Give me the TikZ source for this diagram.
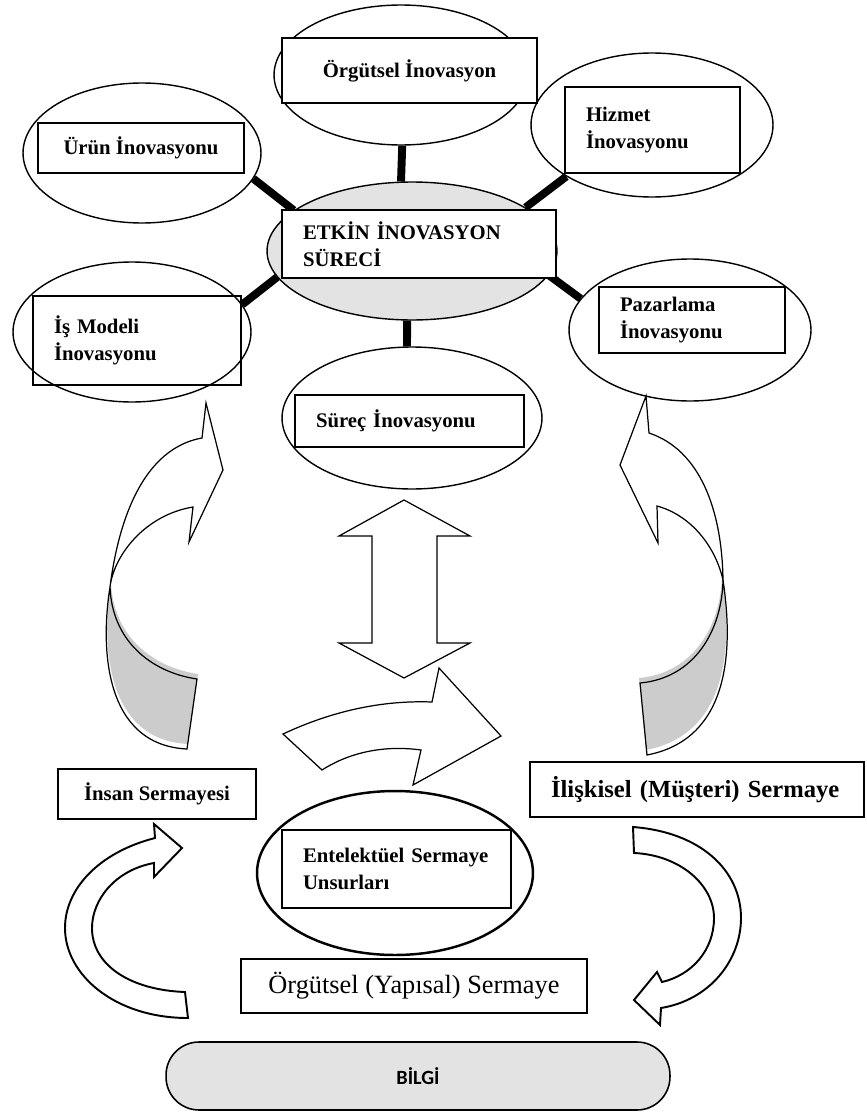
\documentclass[tikz,border=0pt]{standalone}
\usepackage{fontspec}
\setmainfont{Liberation Serif}
\newfontfamily\bilgifont{Carlito}
\usetikzlibrary{shapes.geometric}

\begin{document}
\begin{tikzpicture}[x=0.02cm,y=-0.02cm,
  oval/.style={draw,ellipse,line width=0.8pt,inner sep=0pt},
  kutu/.style={draw,rectangle,fill=white,line width=0.9pt,inner sep=0pt,
    font=\fontsize{11.8}{15.5}\selectfont\bfseries},
  solkutu/.style={kutu,align=left,inner xsep=0.42cm},
  spoke/.style={line width=4.5pt},
  blok/.style={draw,fill=white,line width=0.7pt,line join=miter},
  blokalt/.style={draw,fill=white,line width=1.1pt,line join=miter}]
\useasboundingbox (0,0) rectangle (866,1115);

% ellipses around the boxes
\node[oval,minimum width=5.08cm,minimum height=2.8cm] (orgE) at (401,75) {};
\node[oval,minimum width=4.76cm,minimum height=2.8cm] (urunE) at (142,153) {};
\node[oval,minimum width=4.84cm,minimum height=2.88cm] (hizE) at (652,125) {};
\node[oval,fill=gray!22,minimum width=5.8cm,minimum height=2.76cm] (etkinE) at (412,251) {};
\node[oval,minimum width=4.76cm,minimum height=2.8cm] (isE) at (132,332) {};
\node[oval,minimum width=4.84cm,minimum height=2.84cm] (pazE) at (690,330) {};
\node[oval,minimum width=5.2cm,minimum height=2.84cm] (surE) at (412,418) {};
\node[oval,line width=1.4pt,minimum width=5.52cm,minimum height=3.28cm] (entE) at (395,873) {};

% thick spokes
\draw[spoke] (orgE.-89) -- (etkinE.99);
\draw[spoke] (urunE.-13) -- (etkinE.161);
\draw[spoke] (hizE.-149) -- (etkinE.21);
\draw[spoke] (isE.14) -- (etkinE.191);
\draw[spoke] (etkinE.-10) -- (pazE.164);
\draw[spoke] (etkinE.-94) -- (surE.94);

% boxes
\node[kutu,minimum width=5.1cm,minimum height=1.3cm] (orgB) at (409.5,70.5) {Örgütsel İnovasyon};
\node[kutu,minimum width=4.12cm,minimum height=1cm] (urunB) at (141,148) {Ürün İnovasyonu};
\node[solkutu,text width=2.66cm,minimum height=1.72cm] (hizB) at (652.5,130) {Hizmet\\İnovasyonu};
\node[solkutu,text width=4.64cm,minimum height=1.36cm] (etkinB) at (419,244) {ETKİN İNOVASYON\\SÜRECİ};
\node[solkutu,fill=none,text width=3.32cm,minimum height=1.78cm] (isB) at (137,340.5) {İş Modeli\\İnovasyonu};
\node[solkutu,text width=2.88cm,minimum height=1.32cm] (pazB) at (692,320) {Pazarlama\\İnovasyonu};
\node[solkutu,text width=3.74cm,minimum height=1.04cm] (surB) at (409.5,421) {Süreç İnovasyonu};

% up-down arrow
\draw[blok] (404,500) -- (470,536) -- (437,536) -- (437,643) -- (470,643) -- (404,678)
  -- (339,643) -- (372,643) -- (372,536) -- (339,536) -- cycle;

% middle bent arrow
\draw[blok] (283,734) .. controls (330,712) and (380,700) .. (432,702) -- (439,668) -- (501,736)
  -- (413,785) -- (421,750) .. controls (385,745) and (350,752) .. (322,770) -- cycle;

% left twisted arrow
\begin{scope}[shift={(1,-5)}]
\fill[gray!40] (110,587) .. controls (100,650) and (105,745) .. (187,749) -- (197,679)
  .. controls (150,672) and (112,640) .. (110,587) -- cycle;
\end{scope}
\draw[line width=0.7pt] (110,587) .. controls (100,650) and (105,745) .. (187,749) -- (197,679)
  .. controls (150,672) and (112,640) .. (110,587);
\draw[blok] (110,587) .. controls (116,540) and (135,450) .. (202,438) -- (206,403) -- (223,470)
  -- (189,542) -- (193,507) .. controls (145,515) and (114,555) .. (110,587) -- cycle;

% right twisted arrow
\begin{scope}[shift={(-1,-5)}]
\fill[gray!40] (723,580) .. controls (735,660) and (725,740) .. (647,755) -- (640,683)
  .. controls (695,678) and (722,630) .. (723,580) -- cycle;
\end{scope}
\draw[line width=0.7pt] (723,580) .. controls (735,660) and (725,740) .. (647,755) -- (640,683)
  .. controls (695,678) and (722,630) .. (723,580);
\draw[blok] (723,580) .. controls (722,510) and (700,450) .. (649,433) -- (646,396) -- (620,465)
  -- (658,543) -- (657,506) .. controls (690,515) and (715,545) .. (723,580) -- cycle;

% lower boxes
\node[kutu,minimum width=3.96cm,minimum height=1cm] (insanB) at (157,794) {İnsan Sermayesi};
\node[solkutu,font=\fontsize{14}{15}\selectfont\bfseries,text width=5.84cm,minimum height=1.1cm] (iliB) at (697,789.5) {İlişkisel (Müşteri) Sermaye};
\node[solkutu,text width=3.74cm,minimum height=1.56cm] (entB) at (396.5,869) {Entelektüel Sermaye\\Unsurları};
\node[kutu,font=\fontsize{15}{18}\selectfont,minimum width=6.92cm,minimum height=1.08cm] (orgyB) at (414,986) {Örgütsel (Yapısal) Sermaye};

% lower cycle arrows
\draw[blokalt] (155,838) .. controls (100,852) and (65,888) .. (65,928) .. controls (65,975) and (115,1018) .. (188,1018)
  -- (185,992) .. controls (130,990) and (92,965) .. (92,928) .. controls (92,900) and (115,870) .. (154,863)
  -- (154,877) -- (182,848) -- (154,824) -- cycle;
\draw[blokalt] (633,827) .. controls (700,832) and (741,870) .. (741,918) .. controls (741,960) and (710,1000) .. (661,1008)
  -- (660,1025) -- (634,1000) -- (657,972) -- (662,982) .. controls (692,975) and (714,950) .. (714,918)
  .. controls (714,885) and (680,855) .. (634,853) -- cycle;

\node[draw,line width=0.9pt,fill=gray!22,rounded corners=0.66cm,minimum width=10.08cm,minimum height=1.36cm,
  font=\bilgifont\fontsize{11.5}{14}\selectfont\bfseries] (bilgi) at (418,1076) {BİLGİ};
\end{tikzpicture}
\end{document}
